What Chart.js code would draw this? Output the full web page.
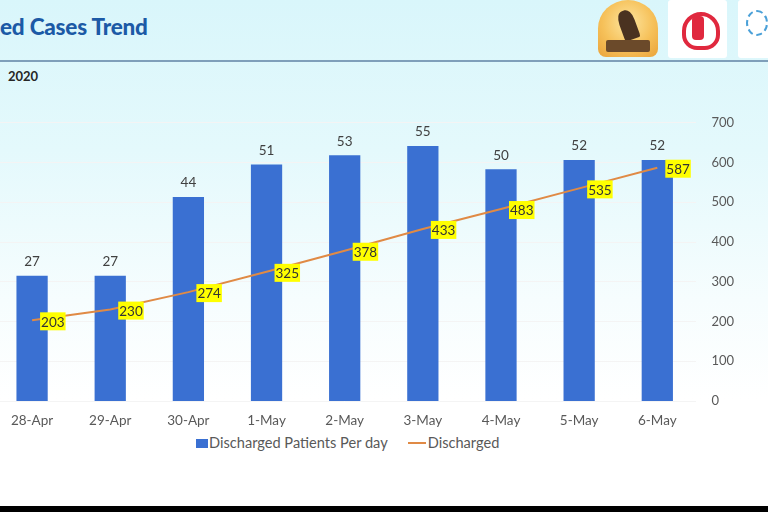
<!DOCTYPE html>
<html><head><meta charset="utf-8">
<script src="https://cdn.jsdelivr.net/npm/chart.js@4"></script>
<style>
html,body{margin:0;padding:0;width:768px;height:512px;overflow:hidden;}
body{background:linear-gradient(to bottom,#d9f6fb 0px,#e4f9fc 150px,#f6fdfe 300px,#ffffff 400px,#ffffff 100%);position:relative;font-family:Lato,"Open Sans",sans-serif;}
#title{position:absolute;left:0;top:13px;font-weight:900;font-size:22.5px;color:#1c5aa6;letter-spacing:-0.2px;}
#rule{position:absolute;left:0;top:60px;width:768px;height:2px;background:#7f9fba;}
#year{position:absolute;left:8px;top:68px;font-size:13px;font-weight:bold;color:#262626;}
#bottom{position:absolute;left:0;top:506px;width:768px;height:6px;background:#000;}
#wrap{position:absolute;left:-7px;top:100px;width:756px;height:331px;}
#legend{position:absolute;left:196px;top:433px;height:18px;font-size:14.6px;color:#595959;white-space:nowrap;line-height:18px;}
#legend span{display:inline-block;vertical-align:middle;}
#legend .box{width:12px;height:9px;background:#3a70d2;margin-right:1px;}
#legend .ln{width:18px;height:2px;background:#e08a45;margin-left:20px;margin-right:2px;}
.logo1{position:absolute;left:598px;top:0;width:60px;height:57px;border-radius:50% 50% 8px 8px;background:radial-gradient(circle at 50% 40%,#fde6a0 0,#f6c15a 55%,#eaa33a 100%);}
.logo1 i{position:absolute;left:8px;top:40px;width:44px;height:12px;background:#6b4a2a;border-radius:2px;}
.logo1 b{position:absolute;left:22px;top:10px;width:16px;height:30px;background:#4a3220;border-radius:40% 40% 10% 10%;transform:rotate(-20deg);}
.logo2{position:absolute;left:668px;top:0;width:59px;height:58px;background:#fff;border-radius:3px;}
.logo2 i{position:absolute;left:14px;top:12px;width:30px;height:30px;border:4px solid #e0283e;border-radius:50% 50% 40% 40%;}
.logo2 b{position:absolute;left:24px;top:16px;width:12px;height:24px;background:#e0283e;border-radius:4px;}
.logo3{position:absolute;left:738px;top:0;width:40px;height:58px;background:#fff;border-radius:3px;}
.logo3 i{position:absolute;left:8px;top:10px;width:18px;height:22px;border:2px dashed #4aa0d8;border-radius:50%;}
</style></head>
<body>
<div id="title">ed Cases Trend</div>
<div class="logo1"><b></b><i></i></div>
<div class="logo2"><i></i><b></b></div>
<div class="logo3"><i></i></div>
<div id="rule"></div>
<div id="year">2020</div>
<div id="wrap"><canvas id="c"></canvas></div>
<div id="legend"><span class="box"></span><span id="l0"></span><span class="ln"></span><span id="l1"></span></div>
<div id="bottom"></div>
<script>
const categories = ["28-Apr","29-Apr","30-Apr","1-May","2-May","3-May","4-May","5-May","6-May"];
const perDay = [27,27,44,51,53,55,50,52,52];
const discharged = [203,230,274,325,378,433,483,535,587];
const rightTicks = [0,100,200,300,400,500,600,700];
const seriesNames = ["Discharged Patients Per day","Discharged"];

const labelPlugin = {
  id:'valueLabels',
  afterDatasetsDraw(chart){
    const ctx = chart.ctx;
    ctx.save();
    ctx.font = '13.5px Lato, "Open Sans", sans-serif';
    ctx.textAlign = 'center';
    ctx.textBaseline = 'middle';
    const barMeta = chart.getDatasetMeta(0);
    barMeta.data.forEach((el,i)=>{
      ctx.fillStyle = '#404040';
      ctx.fillText(String(perDay[i]), el.x, el.y - 14);
    });
    const lineMeta = chart.getDatasetMeta(1);
    lineMeta.data.forEach((el,i)=>{
      const t = String(discharged[i]);
      const w = ctx.measureText(t).width + 2;
      const x0 = el.x + 8, y0 = el.y + 1;
      ctx.fillStyle = '#ffff00';
      ctx.fillRect(x0, y0 - 9, w, 18);
      ctx.fillStyle = '#333333';
      ctx.fillText(t, x0 + w/2, y0 + 1);
    });
    ctx.restore();
  }
};

const chart = new Chart(document.getElementById('c'), {
  data:{
    labels: categories,
    datasets:[
      {type:'bar', label:seriesNames[0], data: perDay, yAxisID:'yL',
       backgroundColor:'#3a70d2', borderWidth:0, categoryPercentage:1, barPercentage:0.4, order:2},
      {type:'line', label:seriesNames[1], data: discharged, yAxisID:'yR',
       borderColor:'#e08a45', backgroundColor:'#e08a45', borderWidth:2, pointRadius:0, tension:0, order:1}
    ]
  },
  options:{
    responsive:true, maintainAspectRatio:false, animation:false,
    layout:{padding:{left:0,right:0,top:13,bottom:0}},
    plugins:{ legend:{display:false}, tooltip:{enabled:false} },
    scales:{
      x:{grid:{display:false, drawTicks:false}, border:{display:false},
         afterFit(s){ s.height = 30; },
         ticks:{color:'#595959', font:{size:13.5, family:'Lato, "Open Sans", sans-serif'}, padding:12}},
      yL:{type:'linear', position:'left', display:false, min:0, max:60},
      yR:{type:'linear', position:'right', min:0, max:700,
          afterBuildTicks(s){ s.ticks = rightTicks.map(v=>({value:v})); },
          grid:{color:'#f4f4f4', drawTicks:false}, border:{display:false},
          ticks:{color:'#595959', padding:15, font:{size:13, family:'Lato, "Open Sans", sans-serif'}}}
    }
  },
  plugins:[labelPlugin]
});
document.getElementById('l0').textContent = chart.data.datasets[0].label;
document.getElementById('l1').textContent = chart.data.datasets[1].label;
</script>
</body></html>
